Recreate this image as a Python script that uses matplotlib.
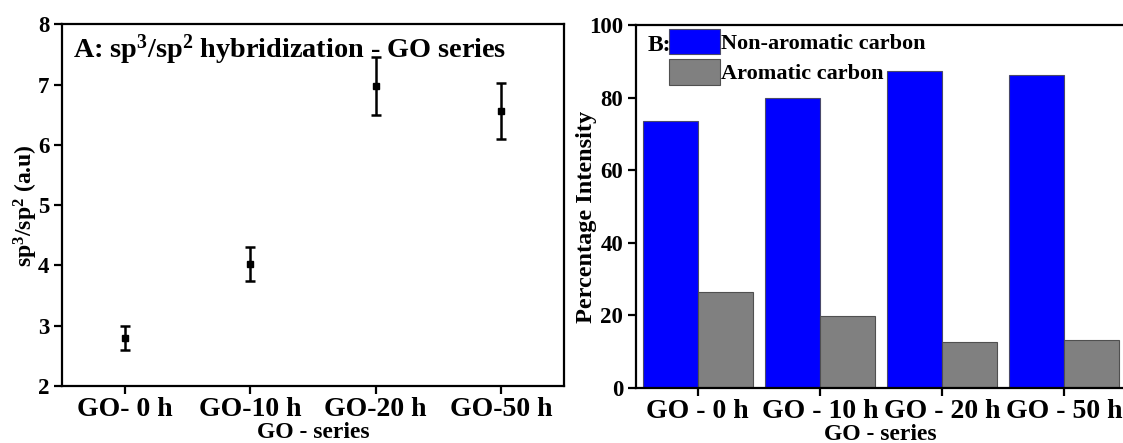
import matplotlib
matplotlib.use("Agg")
import matplotlib.pyplot as plt
import numpy as np

# --- data -------------------------------------------------------------
samples_a = ["GO- 0 h", "GO-10 h", "GO-20 h", "GO-50 h"]
ratio_sp3_sp2 = [2.80, 4.02, 6.98, 6.56]
ratio_err = [0.20, 0.28, 0.48, 0.46]

samples_b = ["GO - 0 h", "GO - 10 h", "GO - 20 h", "GO - 50 h"]
non_aromatic = [73.4, 79.9, 87.2, 86.3]
aromatic = [26.3, 19.9, 12.5, 13.1]

# --- style ------------------------------------------------------------
plt.rcParams["font.family"] = ["Liberation Serif", "DejaVu Serif"]
plt.rcParams["font.weight"] = "bold"
plt.rcParams["axes.labelweight"] = "bold"
plt.rcParams["mathtext.fontset"] = "custom"
plt.rcParams["mathtext.rm"] = "Liberation Serif:bold"
plt.rcParams["mathtext.it"] = "Liberation Serif:bold"
plt.rcParams["mathtext.bf"] = "Liberation Serif:bold"
plt.rcParams["axes.linewidth"] = 1.6

fig = plt.figure(figsize=(11.23, 4.43), dpi=100)
fig.patch.set_facecolor("white")

# --- panel A: sp3/sp2 ratio -------------------------------------------
ax1 = fig.add_axes([0.0552, 0.1287, 0.447, 0.8164])
xa = np.arange(1, len(samples_a) + 1)
ax1.errorbar(xa, ratio_sp3_sp2, yerr=ratio_err, fmt="s", color="black",
             ms=5, elinewidth=1.8, capsize=3.6, capthick=1.8)
ax1.set_xlim(0.5, 4.5)
ax1.set_ylim(2, 8)
ax1.set_yticks(range(2, 9))
ax1.set_xticks(xa)
ax1.set_xticklabels(samples_a, fontsize=20)
ax1.tick_params(axis="y", labelsize=16.5, direction="out", length=6, width=1.6, pad=3)
ax1.tick_params(axis="x", direction="out", length=6, width=1.6, pad=2)
ax1.set_ylabel(r"sp$^3$/sp$^2$ (a.u)", fontsize=17)
ax1.yaxis.set_label_coords(-0.044, 0.5)
ax1.set_xlabel("GO - series", fontsize=17, labelpad=0)
ax1.text(0.022, 0.907, r"A: sp$^3$/sp$^2$ hybridization - GO series",
         transform=ax1.transAxes, fontsize=20.3, fontweight="bold",
         va="baseline", ha="left")

# --- panel B: carbon fractions ----------------------------------------
ax2 = fig.add_axes([0.5659, 0.1248, 0.4368, 0.8188])
xb = np.arange(1, len(samples_b) + 1)
w = 0.45
ax2.bar(xb - w / 2, non_aromatic, width=w, color="#0000FF",
        edgecolor="#4a4a6a", linewidth=0.8, label="Non-aromatic carbon")
ax2.bar(xb + w / 2, aromatic, width=w, color="#808080",
        edgecolor="#505050", linewidth=0.8, label="Aromatic carbon")
ax2.set_xlim(0.49, 4.51)
ax2.set_ylim(0, 100)
ax2.set_yticks(range(0, 101, 20))
ax2.set_xticks(xb)
ax2.set_xticklabels(samples_b, fontsize=20)
ax2.tick_params(axis="y", labelsize=16.5, direction="out", length=6, width=1.6, pad=3)
ax2.tick_params(axis="x", direction="out", length=6, width=1.6, pad=2)
ax2.set_ylabel("Percentage Intensity", fontsize=17.5)
ax2.yaxis.set_label_coords(-0.078, 0.47)
ax2.set_xlabel("GO - series", fontsize=17, labelpad=0)
ax2.text(0.024, 0.929, "B:", transform=ax2.transAxes, fontsize=17,
         fontweight="bold", va="baseline", ha="left")
leg = ax2.legend(loc="upper left", bbox_to_anchor=(0.068, 0.99),
                 frameon=False, fontsize=16, handlelength=2.3,
                 handleheight=1.41, handletextpad=0.05, labelspacing=0.2,
                 borderpad=0, borderaxespad=0)

fig.savefig("out.png", dpi=100, facecolor="white")
